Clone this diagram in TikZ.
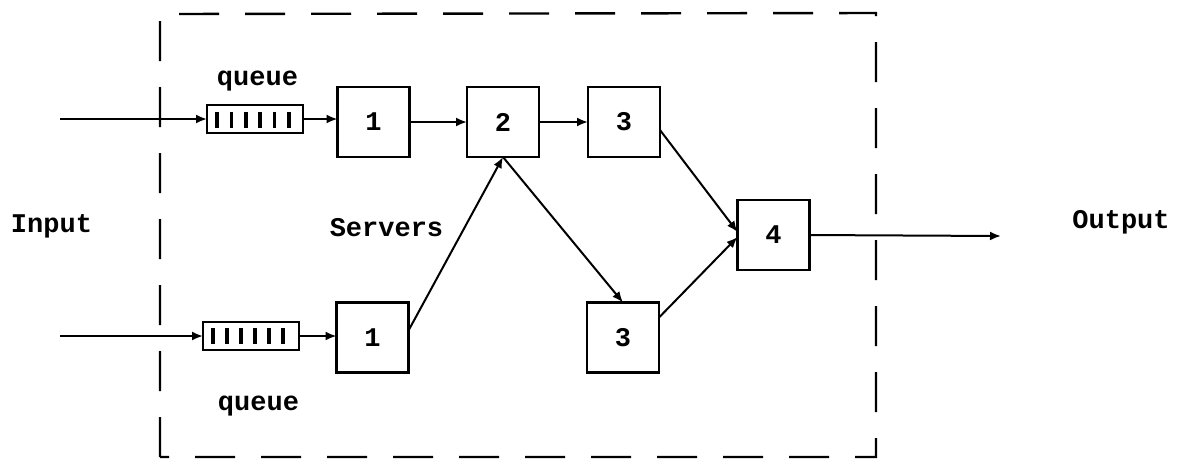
\documentclass[tikz,border=0pt]{standalone}
\usepackage{fontspec}
\setmonofont{Liberation Mono}
\usetikzlibrary{arrows.meta}
\begin{document}
\begin{tikzpicture}[x=0.5pt,y=-0.5pt,
  lbl/.style={font=\ttfamily\bfseries\fontsize{13.5}{15}\selectfont, inner sep=0, anchor=base},
  srv/.style={draw, line width=1.2pt, minimum width=36pt, minimum height=35pt, inner sep=0, outer sep=0, font=\ttfamily\bfseries\fontsize{13.5}{15}\selectfont},
  que/.style={draw, line width=1.2pt, minimum width=48pt, minimum height=14pt, inner sep=0, outer sep=0},
  tick/.style={line width=1.8pt},
  arr/.style={line width=1pt, -{Latex[length=5.5pt,width=4.5pt]}},
  frame/.style={line width=1.2pt, dash pattern=on 20pt off 13pt}]
\useasboundingbox (0,0) rectangle (1184,463);
% dashed frame
\draw[frame] (160,457) -- (160,14) -- (876,13) -- (876,457) -- cycle;
% queues
\node[que] (q1) at (255,119) {};
\node[que] (q2) at (251,336) {};
\foreach \i in {0,...,5}{
  \draw[tick] ([xshift={(5+7.2*\i)*1pt}, yshift=-3.5pt]q1.north west) -- ++(0,16);
  \draw[tick] ([xshift={(5+7*\i)*1pt}, yshift=-3pt]q2.north west) -- ++(0,16);
}
% servers
\node[srv] (b1t) at (373.5,122) {1};
\node[srv] (b2)  at (503,122) {2};
\node[srv] (b3t) at (624,122) {3};
\node[srv] (b4)  at (773.5,235) {4};
\node[srv] (b1b) at (372.5,337.5) {1};
\node[srv] (b3b) at (623,337.5) {3};
% labels
\node[lbl] (lq1) at (257.5,85) {queue};
\node[lbl] (lq2) at (258.5,410) {queue};
\node[lbl] (lin) at (51.5,232) {Input};
\node[lbl] (lsv) at (386.5,236) {Servers};
\node[lbl] (lout) at (1121,228) {Output};
% end points
\coordinate (in1) at (60,119);
\coordinate (in2) at (60,336);
\coordinate (out) at (1001,236);
% connectors
\draw[arr] (in1) -- (q1.west);
\draw[arr] (in2) -- (q2.west);
\draw[arr] (q1.east) -- (b1t.west |- q1.east);
\draw[arr] (q2.east) -- (b1b.west |- q2.east);
\draw[arr] (b1t.east) -- (b2.west);
\draw[arr] (b2.east) -- (b3t.west);
\draw[arr] ([yshift=3.5pt]b1b.east) -- (b2.south);
\draw[arr] (b2.south) -- (b3b.north);
\draw[arr] ([yshift=-4pt]b3t.east) -- ([yshift=1.5pt]b4.west);
\draw[arr] ([yshift=10pt]b3b.east) -- ([yshift=-1pt]b4.west);
\draw[arr] (b4.east) -- (out);
\end{tikzpicture}
\end{document}
